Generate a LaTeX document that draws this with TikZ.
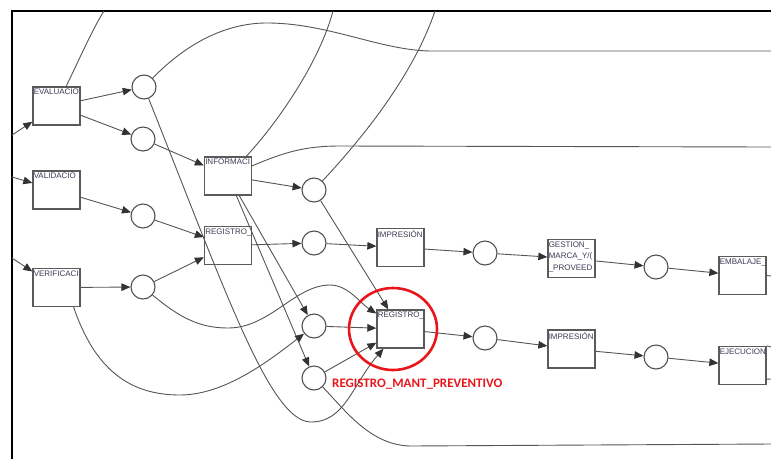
\documentclass[tikz,border=0pt]{standalone}
\usepackage{fontspec}
\setmainfont{Liberation Sans}
\newfontfamily\notefont{Carlito}
\usetikzlibrary{arrows.meta}
\definecolor{arcgrey}{HTML}{555555}
\definecolor{tipgrey}{HTML}{333333}
\definecolor{boxgrey}{HTML}{5A5A5A}
\definecolor{labink}{HTML}{3C3C55}
\definecolor{markred}{HTML}{E8161B}
\tikzset{
  pnbox/.style={draw=boxgrey, fill=white, line width=1.3pt, minimum width=47pt, minimum height=38pt, inner sep=0pt},
  pnplace/.style={circle, draw=boxgrey!90!black, fill=white, line width=1.1pt, minimum size=24pt, inner sep=0pt},
  pnname/.style={anchor=north west, inner xsep=1.2pt, inner ysep=2.6pt, font=\fontsize{8}{11.5}\selectfont, text=labink, align=left},
  pnarc/.style={-{Triangle[length=9pt,width=7.5pt,color=tipgrey]}, line width=0.9pt, arcgrey},
  pnline/.style={line width=0.9pt, arcgrey},
  pnmark/.style={draw=markred, line width=2.6pt},
  pnnote/.style={font=\notefont\bfseries\fontsize{13}{15}\selectfont, text=markred, anchor=west, inner sep=0pt},
}

\begin{document}
\begin{tikzpicture}[x=1pt, y=-1pt]
  \useasboundingbox (0,0) rectangle (771,459);
  \draw[line width=1.4pt] (12,459) -- (12,11) -- (771,11);

  % transitions
  \node[pnbox, label={[pnname]north west:EVALUACIO}] (eval) at (56.5,106) {};
  \node[pnbox, label={[pnname]north west:VALIDACIO}] (valid) at (56.5,190) {};
  \node[pnbox, label={[pnname]north west:VERIFICACI}] (verif) at (56.5,287.5) {};
  \node[pnbox, label={[pnname]north west:INFORMACI}] (info) at (228,176) {};
  \node[pnbox, label={[pnname]north west:REGISTRO\_}] (regA) at (228,245.5) {};
  \node[pnbox, label={[pnname]north west:IMPRESIÓN}] (imprA) at (400.5,247.5) {};
  \node[pnbox, label={[pnname]north west:{GESTION\_\\MARCA\_Y/(\\\_PROVEED}}] (gest) at (571.5,258.5) {};
  \node[pnbox, label={[pnname]north west:EMBALAJE\_}] (embal) at (742.5,275.5) {};
  \node[pnbox, label={[pnname]north west:REGISTRO\_}] (regB) at (400.5,329) {};
  \node[pnbox, label={[pnname]north west:IMPRESIÓN}] (imprB) at (571.5,349) {};
  \node[pnbox, label={[pnname]north west:EJECUCION}] (ejec) at (742.5,365.5) {};

  % places
  \node[pnplace] (p1) at (144,87) {};
  \node[pnplace] (p2) at (143,139) {};
  \node[pnplace] (p3) at (143,216) {};
  \node[pnplace] (p4) at (314,190) {};
  \node[pnplace] (p5) at (314,243) {};
  \node[pnplace] (p6) at (143,287) {};
  \node[pnplace] (p7) at (314,326) {};
  \node[pnplace] (p8) at (314,378) {};
  \node[pnplace] (p9) at (485,253) {};
  \node[pnplace] (p10) at (656,267) {};
  \node[pnplace] (p11) at (485,338) {};
  \node[pnplace] (p12) at (656,357) {};

  % loose ends at the frame
  \coordinate (inEval) at (12,135);
  \coordinate (inValid) at (12,177);
  \coordinate (inVerif) at (12,258);
  \coordinate (topEval) at (104,11);
  \coordinate (topInfo) at (333,11);
  \coordinate (topP4) at (435,11);
  \coordinate (outP1) at (771,51);
  \coordinate (outInfo) at (771,147);
  \coordinate (outEmbal) at (771,276);
  \coordinate (outEjecA) at (771,347);
  \coordinate (outEjecB) at (771,379);
  \coordinate (outP8) at (771,444);

  % straight arcs
  \draw[pnarc] (inEval) -- (eval);
  \draw[pnarc] (inValid) -- (valid);
  \draw[pnarc] (inVerif) -- (verif);
  \draw[pnarc] (eval) -- (p1);
  \draw[pnarc] (eval) -- (p2);
  \draw[pnarc] (valid) -- (p3);
  \draw[pnarc] (verif) -- (p6);
  \draw[pnarc] (p2) -- (info);
  \draw[pnarc] (p3) -- (regA);
  \draw[pnarc] (p6) -- (regA);
  \draw[pnarc] (info) -- (p4);
  \draw[pnarc] (info) -- (p7);
  \draw[pnarc] (info) -- (p8);
  \draw[pnarc] (regA) -- (p5);
  \draw[pnarc] (p5) -- (imprA);
  \draw[pnarc] (imprA) -- (p9);
  \draw[pnarc] (p9) -- (gest);
  \draw[pnarc] (gest) -- (p10);
  \draw[pnarc] (p10) -- (embal);
  \draw[pnarc] (p4) -- (regB);
  \draw[pnarc] (p7) -- (regB);
  \draw[pnarc] (p8) -- (regB);
  \draw[pnarc] (regB) -- (p11);
  \draw[pnarc] (p11) -- (imprB);
  \draw[pnarc] (imprB) -- (p12);
  \draw[pnarc] (p12) -- (ejec);

  % curved arcs
  \draw[pnarc] (p1) .. controls (225,290) and (270,422) .. (311,422)
    .. controls (345,422) and (352,385) .. (regB);
  \draw[pnarc] (p6) .. controls (180,318) and (200,328) .. (228,328)
    .. controls (270,328) and (295,285) .. (330,285)
    .. controls (348,285) and (360,303) .. (regB);
  \draw[pnarc] ([xshift=-7pt]verif.south east) .. controls (95,370) and (130,395) .. (180,395)
    .. controls (225,395) and (270,360) .. (p7);

  % arcs leaving the frame
  \draw[pnline] (eval) .. controls (80,58) and (92,30) .. (topEval);
  \draw[pnline] (info) .. controls (280,120) and (320,60) .. (topInfo);
  \draw[pnline] (p4) .. controls (370,130) and (415,70) .. (topP4);
  \draw[pnline] (p1) .. controls (185,45) and (225,22) .. (270,23)
    .. controls (330,24) and (380,50) .. (430,51) -- (outP1);
  \draw[pnline] (info) .. controls (285,152) and (305,146) .. (340,146) -- (outInfo);
  \draw[pnline] (p8) .. controls (345,410) and (370,445) .. (410,446) -- (outP8);
  \draw[pnline] (embal.east) -- (outEmbal);
  \draw[pnline] (ejec.north east) -- (outEjecA);
  \draw[pnline] ([yshift=6pt]ejec.south east) -- (outEjecB);

  % highlight
  \draw[pnmark] (393,329) ellipse [x radius=44pt, y radius=41pt];
  \node[pnnote] (markText) at (332,384) {REGISTRO\_MANT\_PREVENTIVO};
\end{tikzpicture}
\end{document}
